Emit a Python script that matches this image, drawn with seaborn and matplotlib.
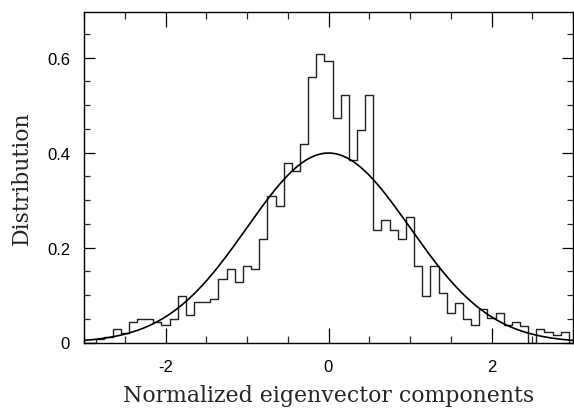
import numpy as np
import pandas as pd
import matplotlib
matplotlib.use("Agg")
import matplotlib.pyplot as plt
import seaborn as sns
from matplotlib.ticker import MultipleLocator, FixedLocator, FixedFormatter

# ---- data ----
bin_centers = [-3.0, -2.9, -2.8, -2.7, -2.6, -2.5, -2.4, -2.3, -2.2, -2.1,
               -2.0, -1.9, -1.8, -1.7, -1.6, -1.5, -1.4, -1.3, -1.2, -1.1,
               -1.0, -0.9, -0.8, -0.7, -0.6, -0.5, -0.4, -0.3, -0.2, -0.1,
               0.0, 0.1, 0.2, 0.3, 0.4, 0.5, 0.6, 0.7, 0.8, 0.9,
               1.0, 1.1, 1.2, 1.3, 1.4, 1.5, 1.6, 1.7, 1.8, 1.9,
               2.0, 2.1, 2.2, 2.3, 2.4, 2.5, 2.6, 2.7, 2.8, 2.9, 3.0]
bin_values = [0.000, 0.000, 0.008, 0.012, 0.029, 0.020, 0.043, 0.050, 0.050, 0.044,
              0.036, 0.050, 0.098, 0.057, 0.085, 0.085, 0.091, 0.133, 0.154, 0.127,
              0.161, 0.154, 0.217, 0.308, 0.287, 0.377, 0.362, 0.419, 0.559, 0.608,
              0.593, 0.473, 0.522, 0.385, 0.447, 0.522, 0.237, 0.258, 0.237, 0.217,
              0.265, 0.161, 0.098, 0.161, 0.105, 0.063, 0.084, 0.050, 0.036, 0.070,
              0.052, 0.063, 0.036, 0.043, 0.035, 0.000, 0.028, 0.022, 0.015, 0.022, 0.000]
bin_width = 0.1

y_tick_values = [0.0, 0.2, 0.4, 0.6]
y_tick_labels = ["0", "0.2", "0.4", "0.6"]
x_tick_values = [-2, 0, 2]
x_tick_labels = ["-2", "0", "2"]
x_label = "Normalized eigenvector components"
y_label = "Distribution"

df = pd.DataFrame({"center": bin_centers, "density": bin_values})
lo = bin_centers[0] - bin_width / 2
hi = bin_centers[-1] + bin_width / 2

# reference standard normal density
gx = np.linspace(-3.0, 3.0, 401)
gauss = pd.DataFrame({"x": gx, "y": np.exp(-gx ** 2 / 2) / np.sqrt(2 * np.pi)})

sns.set_style("ticks")
plt.rcParams["font.family"] = ["Liberation Sans", "DejaVu Sans"]

fig = plt.figure(figsize=(5.74, 4.10), dpi=100)
ax = fig.add_axes([84 / 574, 1 - 343.5 / 410, (573 - 84) / 574, (343.5 - 12.5) / 410])

sns.histplot(data=df, x="center", weights="density", binwidth=bin_width,
             binrange=(lo, hi), element="step", fill=False,
             color="#222222", linewidth=1.0, ax=ax)
sns.lineplot(data=gauss, x="x", y="y", color="black", linewidth=1.2, ax=ax)

ax.set_xlim(-3, 3)
ax.set_ylim(0, 0.697)

for s in ax.spines.values():
    s.set_visible(True)
    s.set_color("black")
    s.set_linewidth(1.0)

ax.xaxis.set_major_locator(FixedLocator(x_tick_values))
ax.xaxis.set_major_formatter(FixedFormatter(x_tick_labels))
ax.xaxis.set_minor_locator(MultipleLocator(0.5))
ax.yaxis.set_major_locator(FixedLocator(y_tick_values))
ax.yaxis.set_major_formatter(FixedFormatter(y_tick_labels))
ax.yaxis.set_minor_locator(MultipleLocator(0.05))

ax.tick_params(axis="x", which="major", direction="in", length=10.5, width=0.9,
               top=True, bottom=True, labelsize=12, pad=12, colors="black")
ax.tick_params(axis="x", which="minor", direction="in", length=5.2, width=0.9,
               top=True, bottom=True)
ax.tick_params(axis="y", which="major", direction="in", length=8, width=0.9,
               left=True, right=True, labelsize=12, pad=10, colors="black")
ax.tick_params(axis="y", which="minor", direction="in", length=4.3, width=0.9,
               left=True, right=True)

ax.set_xlabel(x_label, family=["DejaVu Serif"], fontsize=15.8, labelpad=7)
ax.set_ylabel(y_label, family=["DejaVu Serif"], fontsize=15.8, labelpad=10)

fig.savefig("out.png", dpi=100)
